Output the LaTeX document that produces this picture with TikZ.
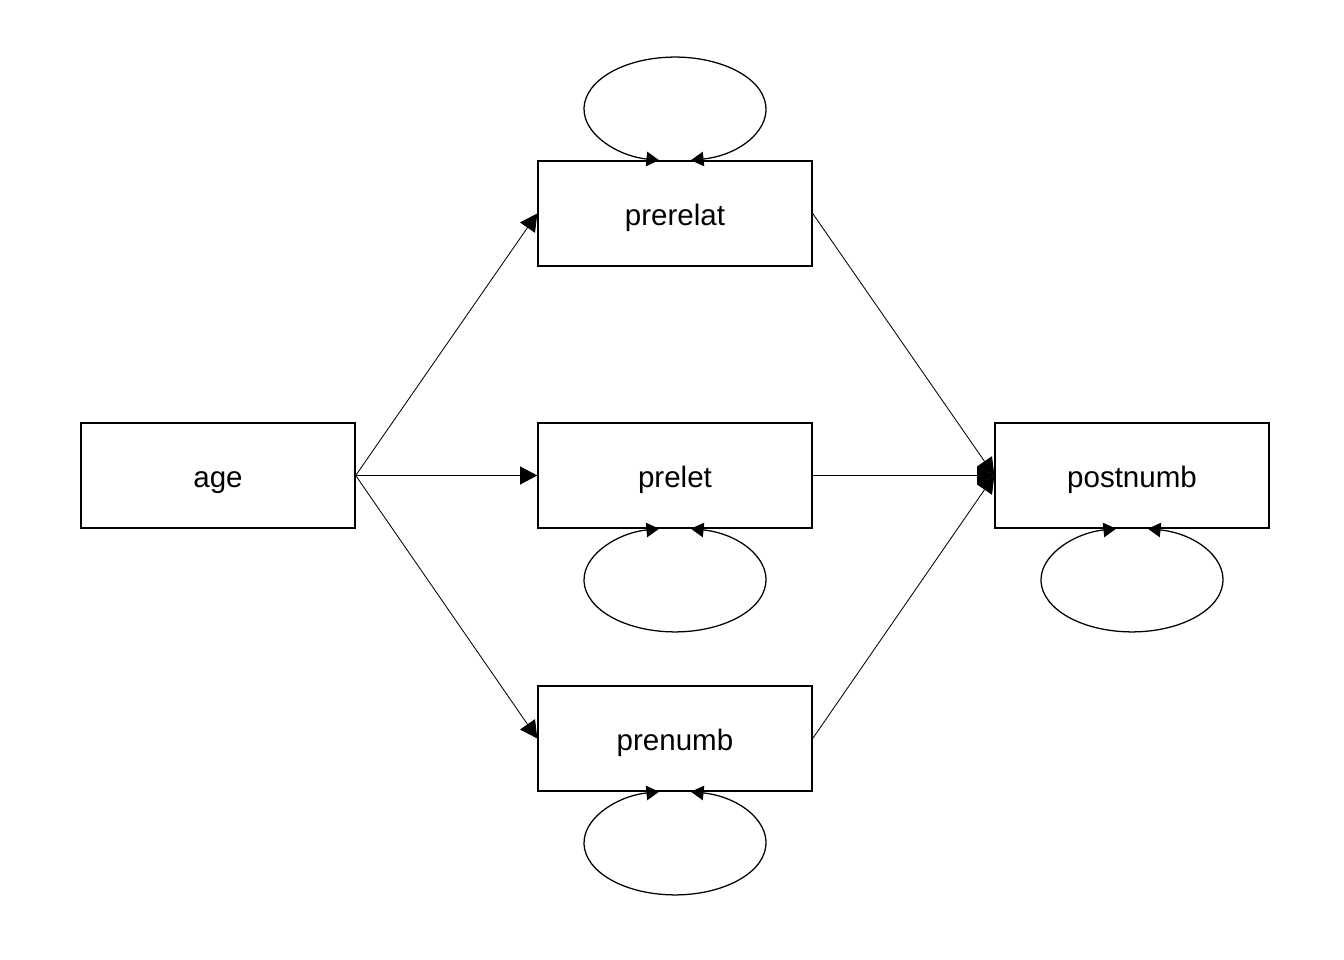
\documentclass[tikz,border=0pt]{standalone}
\usepackage{fontspec}
\setmainfont{Liberation Sans}
\usetikzlibrary{arrows.meta}

\begin{document}
\begin{tikzpicture}[
    varbox/.style={draw, line width=1pt, minimum width=6.85cm, minimum height=2.625cm,
        inner sep=0pt, text height=0.6cm, text depth=0pt, font=\fontsize{21}{25}\selectfont},
    path/.style={line width=0.6pt, -{Triangle[length=0.43cm,width=0.45cm]}},
    loopline/.style={line width=0.9pt, {Triangle[length=0.32cm,width=0.36cm]}-{Triangle[length=0.32cm,width=0.36cm]}}
]
    \useasboundingbox (0,0) rectangle (33.6,24);
    % observed variables
    \node[varbox] (age) at (5.45,12.1125) {age};
    \node[varbox] (prerelat) at (16.875,18.6625) {prerelat};
    \node[varbox] (prelet) at (16.875,12.1125) {prelet};
    \node[varbox] (prenumb) at (16.875,5.5375) {prenumb};
    \node[varbox] (postnumb) at (28.3,12.1125) {postnumb};
    % regressions
    \draw[path] (age.east) -- (prerelat.west);
    \draw[path] (age.east) -- (prelet.west);
    \draw[path] (age.east) -- (prenumb.west);
    \draw[path] (prerelat.east) -- (postnumb.west);
    \draw[path] (prelet.east) -- (postnumb.west);
    \draw[path] (prenumb.east) -- (postnumb.west);
    % variances
    \draw[loopline] ([xshift=0.395cm]prerelat.north) arc[start angle=-80, end angle=260, x radius=2.275cm, y radius=1.3cm];
    \draw[loopline] ([xshift=0.395cm]prelet.south) arc[start angle=80, end angle=-260, x radius=2.275cm, y radius=1.3cm];
    \draw[loopline] ([xshift=0.395cm]prenumb.south) arc[start angle=80, end angle=-260, x radius=2.275cm, y radius=1.3cm];
    \draw[loopline] ([xshift=0.395cm]postnumb.south) arc[start angle=80, end angle=-260, x radius=2.275cm, y radius=1.3cm];
\end{tikzpicture}
\end{document}
